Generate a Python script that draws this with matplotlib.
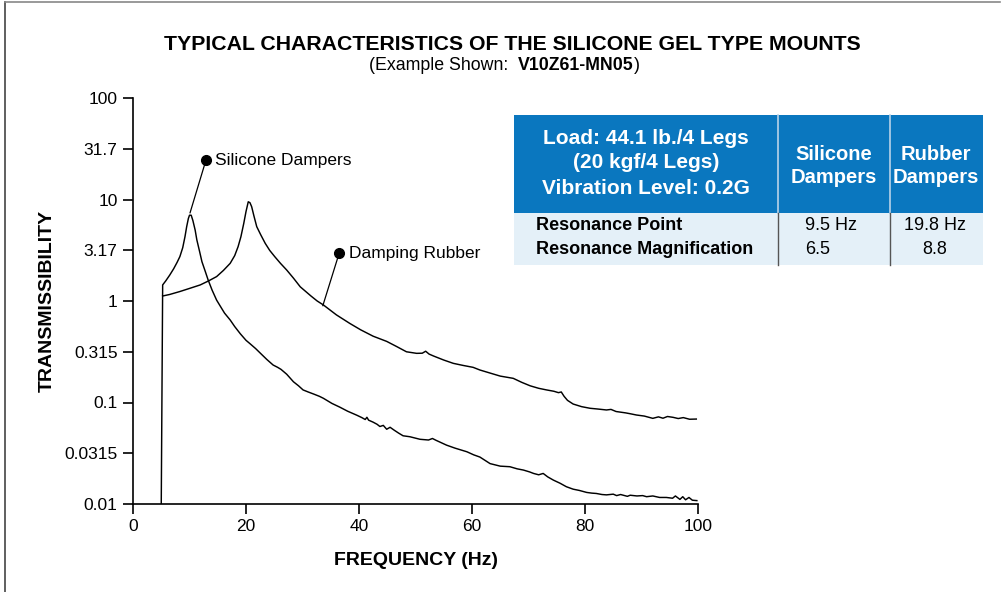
import matplotlib
matplotlib.use("Agg")
import matplotlib.pyplot as plt
from matplotlib.patches import Rectangle
from matplotlib.lines import Line2D
from matplotlib import font_manager

# ---------------- data ----------------
sil_freq = [5.0, 5.25, 5.8, 6.5, 7.2, 7.8, 8.3, 8.8, 9.2, 9.5, 9.8, 10.0, 10.3, 10.6, 11.0,
            11.3, 11.8, 12.2, 12.8, 13.3, 14.0, 14.8, 15.5, 16.2, 17.2, 18.0, 19.0, 20.0, 20.7,
            21.7, 22.7, 23.7, 24.8, 25.6, 26.2, 27.2, 28.4, 29.3, 30.1, 31.0, 32.0, 33.0, 33.7,
            35.2, 36.6, 38.0, 39.6, 40.5, 41.1, 41.4, 41.7, 42.5, 43.2, 43.7, 44.3, 44.9, 45.5,
            46.2, 47.0, 47.8, 49.0, 50.8, 52.3, 53.0, 53.6, 55.5, 57.0, 59.1, 60.3, 61.4, 63.2,
            65.0, 66.7, 68.0, 69.1, 70.2, 70.9, 71.8, 72.6, 73.4, 74.4, 75.6, 76.7, 77.9, 79.0,
            80.3, 81.2, 82.0, 83.0, 83.8, 85.0, 85.6, 86.3, 87.5, 88.0, 89.2, 90.2, 90.9, 92.0,
            93.2, 94.4, 95.5, 96.0, 96.8, 97.3, 97.8, 98.4, 99.0, 99.8]
sil_val = [0.01, 1.44, 1.58, 1.80, 2.08, 2.40, 2.74, 3.35, 4.3, 5.4, 6.5, 7.0, 7.0, 6.2, 5.0,
           4.0, 3.05, 2.44, 1.95, 1.61, 1.28, 1.02, 0.88, 0.76, 0.65, 0.56, 0.475, 0.41, 0.38,
           0.34, 0.30, 0.265, 0.234, 0.222, 0.212, 0.19, 0.16, 0.146, 0.133, 0.127, 0.121, 0.115,
           0.110, 0.098, 0.090, 0.082, 0.075, 0.071, 0.068, 0.0715, 0.067, 0.064, 0.061, 0.058,
           0.0595, 0.0545, 0.057, 0.0535, 0.050, 0.047, 0.046, 0.0434, 0.0427, 0.0442, 0.0425,
           0.038, 0.0355, 0.0327, 0.0305, 0.029, 0.025, 0.0236, 0.0233, 0.0222, 0.0216, 0.0207,
           0.020, 0.0194, 0.0200, 0.0185, 0.0172, 0.0160, 0.0148, 0.0140, 0.0136, 0.0130,
           0.0128, 0.0127, 0.0124, 0.0123, 0.0125, 0.0121, 0.0124, 0.0119, 0.0122, 0.0120,
           0.0121, 0.0118, 0.0120, 0.0116, 0.0116, 0.0114, 0.0120, 0.0111, 0.0118, 0.0110,
           0.0116, 0.0109, 0.0108]

rub_freq = [5.25, 6.5, 8.3, 10.0, 11.9, 13.4, 14.8, 16.0, 17.2, 18.0, 18.6, 19.1, 19.6, 20.0,
            20.4, 20.7, 21.0, 21.4, 21.9, 22.6, 23.4, 24.2, 25.1, 26.1, 27.2, 28.4, 29.6, 30.5,
            31.5, 32.6, 33.7, 36.0, 38.4, 40.3, 42.5, 44.9, 46.7, 48.4, 50.2, 51.2, 51.8, 52.4,
            53.2, 55.0, 56.7, 58.4, 60.2, 61.4, 63.2, 65.0, 67.3, 68.8, 70.3, 71.8, 73.2, 74.5,
            75.3, 75.8, 76.3, 76.9, 77.9, 79.4, 80.9, 82.3, 83.8, 84.6, 85.5, 87.2, 88.0, 89.1,
            90.5, 92.0, 93.0, 93.8, 94.6, 95.6, 96.5, 97.4, 98.5, 99.7]
rub_val = [1.12, 1.16, 1.24, 1.33, 1.44, 1.58, 1.74, 2.0, 2.35, 2.8, 3.43, 4.3, 5.8, 7.6, 9.5,
           9.3, 8.5, 6.9, 5.4, 4.5, 3.7, 3.15, 2.73, 2.35, 2.02, 1.68, 1.38, 1.25, 1.12, 1.0,
           0.914, 0.73, 0.60, 0.52, 0.45, 0.40, 0.355, 0.316, 0.305, 0.306, 0.320, 0.300, 0.287,
           0.262, 0.243, 0.232, 0.222, 0.209, 0.195, 0.182, 0.173, 0.158, 0.146, 0.138, 0.133,
           0.129, 0.125, 0.127, 0.115, 0.105, 0.0966, 0.091, 0.0877, 0.0862, 0.0844, 0.0855,
           0.0815, 0.0790, 0.0775, 0.0753, 0.0735, 0.0698, 0.0722, 0.0700, 0.0728, 0.0714,
           0.0695, 0.0710, 0.0684, 0.0687]

x_ticks = [0, 20, 40, 60, 80, 100]
y_ticks = [0.01, 0.0315, 0.1, 0.315, 1, 3.17, 10, 31.7, 100]
y_tick_labels = ["0.01", "0.0315", "0.1", "0.315", "1", "3.17", "10", "31.7", "100"]

title = "TYPICAL CHARACTERISTICS OF THE SILICONE GEL TYPE MOUNTS"
header_left = ["Load: 44.1 lb./4 Legs", "(20 kgf/4 Legs)", "Vibration Level: 0.2G"]
col_heads = ["Silicone\nDampers", "Rubber\nDampers"]
row_labels = ["Resonance Point", "Resonance Magnification"]
sil_table = ["9.5 Hz", "6.5"]
rub_table = ["19.8 Hz", "8.8"]

# ---------------- style ----------------
plt.rcParams['font.family'] = ['Liberation Sans', 'DejaVu Sans']
names = {f.name for f in font_manager.fontManager.ttflist}
narrow = 'Liberation Sans Narrow' if 'Liberation Sans Narrow' in names else 'Liberation Sans'

W, H = 1003, 592
fig = plt.figure(figsize=(W / 100, H / 100), dpi=100)

def fx(px):
    return px / W

def fy(py):
    return 1 - py / H

ax = fig.add_axes([fx(133), fy(504), fx(698) - fx(133), fy(98) - fy(504)])
ax.set_yscale('log')
ax.set_xlim(0, 100)
ax.set_ylim(0.01, 100)
ax.plot(sil_freq, sil_val, color='black', lw=1.05)
ax.plot(rub_freq, rub_val, color='black', lw=1.05)

for s in ['top', 'right']:
    ax.spines[s].set_visible(False)
for s in ['left', 'bottom']:
    ax.spines[s].set_linewidth(1.2)
ax.set_xticks(x_ticks)
ax.set_xticklabels([str(v) for v in x_ticks])
ax.set_yticks(y_ticks)
ax.set_yticklabels(y_tick_labels)
ax.yaxis.set_minor_locator(matplotlib.ticker.NullLocator())
ax.tick_params(axis='both', direction='out', length=7, width=1.2, labelsize=12.5, pad=4)

ax.set_xlabel("FREQUENCY (Hz)", fontsize=14, fontweight='bold', labelpad=13)
ax.set_ylabel("TRANSMISSIBILITY", fontsize=14, fontweight='bold')
ax.yaxis.set_label_coords(-0.136, 0.5)

# annotations
ax.plot([10.1, 12.9], [7.4, 24.3], color='black', lw=0.9)
ax.plot([12.9], [24.3], 'o', color='black', ms=7)
ax.text(14.6, 24.3, "Silicone Dampers", fontsize=12.5, va='center', ha='left')
ax.plot([33.6, 36.5], [0.9, 2.97], color='black', lw=0.9)
ax.plot([36.5], [2.97], 'o', color='black', ms=7)
ax.text(38.2, 2.97, "Damping Rubber", fontsize=12.5, va='center', ha='left')

# titles
fig.text(fx(512), fy(44), title, fontsize=15.3, fontweight='bold', ha='center', va='center',
         family=narrow)
t1 = fig.text(fx(369), fy(65), "(Example Shown:  ", fontsize=12.8, ha='left', va='center', family=narrow)
fig.canvas.draw()
bb = t1.get_window_extent()
t2 = fig.text(bb.x1 / W, fy(65), "V10Z61-MN05", fontsize=12.8, ha='left', va='center',
              family=narrow, fontweight='bold')
fig.canvas.draw()
bb2 = t2.get_window_extent()
fig.text(bb2.x1 / W, fy(65), ")", fontsize=12.8, ha='left', va='center', family=narrow)

# table
blue = '#0A77BF'
light = '#E4F0F8'
tl, tr = 514, 983
c1, c2 = 778, 890
ttop, tmid, tbot = 115, 213, 265
fig.add_artist(Rectangle((fx(tl), fy(tmid)), fx(tr) - fx(tl), fy(ttop) - fy(tmid),
                         transform=fig.transFigure, facecolor=blue, edgecolor='none'))
fig.add_artist(Rectangle((fx(tl), fy(tbot)), fx(tr) - fx(tl), fy(tmid) - fy(tbot),
                         transform=fig.transFigure, facecolor=light, edgecolor='none'))
for cx in (c1, c2):
    fig.add_artist(Line2D([fx(cx), fx(cx)], [fy(ttop), fy(tmid)], transform=fig.transFigure,
                          color='#B9D3E8', lw=1.2))
    fig.add_artist(Line2D([fx(cx), fx(cx)], [fy(tmid), fy(tbot)], transform=fig.transFigure,
                          color='#555555', lw=1.0))

for i, line in enumerate(header_left):
    fig.text(fx(646), fy(138 + 25 * i), line, color='white', fontsize=15, fontweight='bold',
             ha='center', va='center')
fig.text(fx(834), fy(166), col_heads[0], color='white', fontsize=14.5, fontweight='bold',
         ha='center', va='center', linespacing=1.25)
fig.text(fx(936), fy(166), col_heads[1], color='white', fontsize=14.5, fontweight='bold',
         ha='center', va='center', linespacing=1.25)
for i, lab in enumerate(row_labels):
    yy = fy(226 + 23 * i)
    fig.text(fx(536), yy, lab, fontsize=13, fontweight='bold', ha='left', va='center')
    fig.text(fx(805), yy, sil_table[i], fontsize=13, ha='left', va='center')
    fig.text(fx(935), yy, rub_table[i], fontsize=13, ha='center', va='center')

# outer frame
fig.add_artist(Line2D([fx(5), fx(5)], [0, fy(2)], transform=fig.transFigure, color='#444444', lw=1.2))
fig.add_artist(Line2D([fx(5), fx(1000)], [fy(2), fy(2)], transform=fig.transFigure, color='#888888', lw=1.2))

fig.savefig("out.png", dpi=100)
